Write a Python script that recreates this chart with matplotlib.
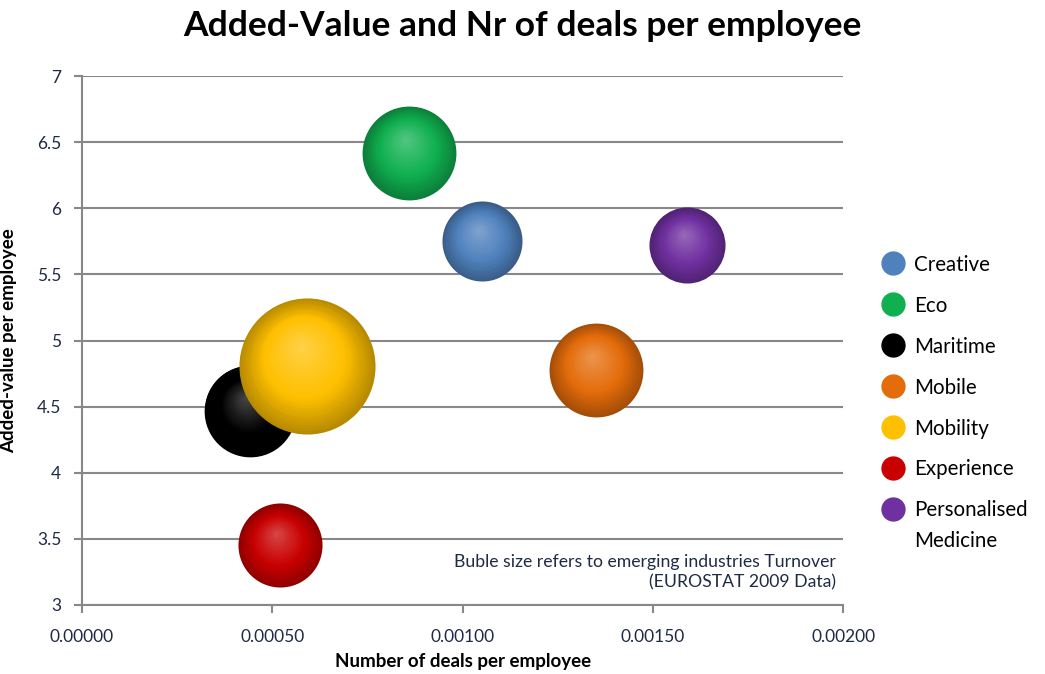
import numpy as np
import matplotlib
matplotlib.use("Agg")
import matplotlib.pyplot as plt
import matplotlib.transforms as mtransforms
from matplotlib.colors import to_rgb
from matplotlib.lines import Line2D

plt.rcParams['font.family'] = ['Lato', 'DejaVu Sans']

# ---- DATA ----
industries = ["Creative", "Eco", "Maritime", "Mobile", "Mobility", "Experience",
              "Personalised\nMedicine"]
deals_per_employee = [0.00105, 0.00086, 0.00044, 0.00135, 0.00059, 0.00052, 0.00159]
added_value = [5.75, 6.42, 4.47, 4.78, 4.81, 3.45, 5.72]
turnover = [1600, 2200, 2100, 2200, 4624, 1764, 1444]   # relative bubble size
colors = ["#4F81BD", "#10B050", "#000000", "#E46C0A", "#FFC000", "#C80000", "#7030A0"]

x_ticks = [0.0, 0.0005, 0.001, 0.0015, 0.002]
y_ticks = [3, 3.5, 4, 4.5, 5, 5.5, 6, 6.5, 7]

fig = plt.figure(figsize=(10.45, 6.74), dpi=100)
ax = fig.add_axes([0.0785, 0.1024, 0.7285, 0.7848])

max_s = 9600  # marker area (pt^2) of largest bubble


# ---- BOLHA 3D ----
def draw_sphere(x, y, s, color, z):
    r_pt = np.sqrt(s) / 2
    base = np.array(to_rgb(color))
    n = 30
    for i in range(n):
        f = 1 - i / n
        t = i / (n - 1)
        if t < 0.4:
            c = base * (0.72 + 0.7 * t)
        else:
            c = base + (1 - base) * (t - 0.4) * 0.45
        c = np.clip(c, 0, 1)
        off = (1 - f) * r_pt * 0.3
        tr = mtransforms.offset_copy(ax.transData, fig=fig, x=-off * 0.3, y=off, units='points')
        ax.scatter([x], [y], s=s * f ** 2, color=c, transform=tr,
                   zorder=3 + z + i * 0.001, linewidths=0)


sizes = np.array(turnover) / max(turnover) * max_s
for k in range(len(industries)):
    draw_sphere(deals_per_employee[k], added_value[k], sizes[k], colors[k], k)

# ---- EIXOS ----
ax.set_xlim(0, 0.002)
ax.set_ylim(3, 7)
ax.set_xticks(x_ticks)
ax.set_yticks(y_ticks)
ax.set_xticklabels([f"{v:.5f}" for v in x_ticks])
ax.set_yticklabels([f"{v:g}" for v in y_ticks])
ax.tick_params(axis='both', colors='#888888', labelcolor='#1F2A44', labelsize=12.5,
               length=6, width=1.5)
ax.tick_params(axis='x', pad=11)
ax.tick_params(axis='y', pad=9)
ax.yaxis.grid(True, color='#888888', linewidth=1.5)
ax.set_axisbelow(True)
for side in ['top', 'right']:
    ax.spines[side].set_visible(False)
for side in ['left', 'bottom']:
    ax.spines[side].set_color('#888888')
    ax.spines[side].set_linewidth(1.5)

ax.set_xlabel("Number of deals per employee", fontsize=13.5, fontweight='bold', labelpad=6)
ax.set_ylabel("Added-value per employee", fontsize=13.5, fontweight='bold', labelpad=14)
fig.suptitle("Added-Value and Nr of deals per employee", fontsize=25.5, fontweight='bold', y=0.985)

ax.text(0.99, 0.028, "Buble size refers to emerging industries Turnover\n(EUROSTAT 2009 Data)",
        transform=ax.transAxes, ha='right', va='bottom', fontsize=12.7, color='#1F2A44',
        linespacing=1.3, zorder=10)

# ---- LEGENDA ----
# o marcador fica alinhado com a primeira linha do rótulo com duas linhas
first_lines = [name.split("\n")[0] for name in industries]
handles = [Line2D([], [], marker='o', linestyle='', markersize=16.5, color=c) for c in colors]
leg = fig.legend(handles, first_lines, loc='center left', bbox_to_anchor=(0.821, 0.425),
                 frameon=False, fontsize=14.8, labelspacing=1.02, handletextpad=0.25,
                 handlelength=1.6)

fig.canvas.draw()
W, H = fig.canvas.get_width_height()
for name, txt in zip(industries, leg.get_texts()):
    rest = name.split("\n")[1:]
    if rest:
        bb = txt.get_window_extent()
        fig.text(bb.x0 / W, (bb.y0 - 31) / H, "\n".join(rest), fontsize=14.8,
                 ha='left', va='bottom')

plt.savefig("out.png", dpi=100)
